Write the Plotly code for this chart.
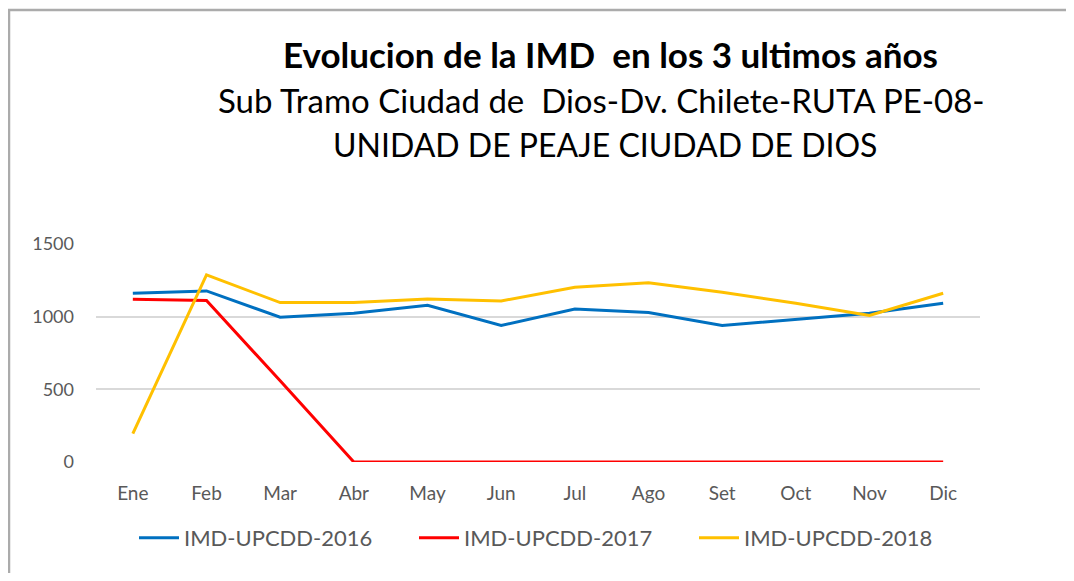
import plotly.graph_objects as go

months = ["Ene", "Feb", "Mar", "Abr", "May", "Jun", "Jul", "Ago", "Set", "Oct", "Nov", "Dic"]
imd_2016 = [1161, 1177, 996, 1024, 1079, 939, 1053, 1028, 939, 983, 1024, 1092]
imd_2017 = [1120, 1111, 559, 0, 0, 0, 0, 0, 0, 0, 0, 0]
imd_2018 = [195, 1287, 1097, 1097, 1122, 1108, 1202, 1234, 1168, 1092, 1008, 1161]
series_names = ["IMD-UPCDD-2016", "IMD-UPCDD-2017", "IMD-UPCDD-2018"]
y_ticks = [0, 500, 1000, 1500]

# page body has an 8px margin; work in screen pixels and convert
OFF = 8
W, H = 1074 - 2 * OFF, 581 - 2 * OFF
L, R, T, B = 96 - OFF, 980 - OFF, 244 - OFF, 462 - OFF

fig = go.Figure()
colors = ["#0070C0", "#FF0000", "#FFC000"]
for name, vals, col in zip(series_names, [imd_2016, imd_2017, imd_2018], colors):
    fig.add_trace(go.Scatter(x=months, y=vals, mode="lines", name=name,
                             line=dict(color=col, width=3)))

font_fam = "Lato, 'Open Sans', sans-serif"

def px_x(px):  # screen px -> paper
    return (px - OFF - L) / (R - L)

def px_y(py):
    return (B - (py - OFF)) / (B - T)

border = dict(color="#ababab", width=2.5)

fig.update_layout(
    width=W, height=H,
    margin=dict(l=L, r=W - R, t=T, b=H - B),
    paper_bgcolor="white", plot_bgcolor="white",
    showlegend=True,
    legend=dict(orientation="h", x=px_x(134), y=px_y(538), xanchor="left", yanchor="middle",
                font=dict(family=font_fam, size=22, color="#595959"),
                entrywidth=225, entrywidthmode="pixels", itemwidth=40),
    xaxis=dict(range=[-0.5, 11.5], showgrid=False, zeroline=False, showline=False,
               ticks="", tickfont=dict(family=font_fam, size=19, color="#595959"),
               ticklabelstandoff=18),
    yaxis=dict(range=[0, 1500], tickvals=y_ticks, showgrid=True, gridcolor="#d9d9d9",
               gridwidth=1.5, zeroline=False, showline=False, ticks="",
               tickfont=dict(family=font_fam, size=18, color="#595959"),
               ticklabelstandoff=21),
    annotations=[
        dict(text="<b>Evolucion de la IMD  en los 3 ultimos años</b>", xref="paper", yref="paper",
             x=px_x(610), y=px_y(54), showarrow=False, xanchor="center", yanchor="middle",
             font=dict(family=font_fam, size=35, color="black")),
        dict(text="Sub Tramo Ciudad de  Dios-Dv. Chilete-RUTA PE-08-", xref="paper", yref="paper",
             x=px_x(601), y=px_y(100), showarrow=False, xanchor="center", yanchor="middle",
             font=dict(family=font_fam, size=33, color="black")),
        dict(text="UNIDAD DE PEAJE CIUDAD DE DIOS", xref="paper", yref="paper",
             x=px_x(605), y=px_y(144), showarrow=False, xanchor="center", yanchor="middle",
             font=dict(family=font_fam, size=32, color="black")),
    ],
    shapes=[
        dict(type="rect", xref="paper", yref="paper",
             x0=px_x(1055), x1=px_x(1120), y0=px_y(640), y1=px_y(13),
             line=dict(width=0), fillcolor="white", layer="above"),
        dict(type="line", xref="paper", yref="paper",
             x0=px_x(9), x1=px_x(9), y0=px_y(620), y1=px_y(10), line=border, layer="above"),
        dict(type="line", xref="paper", yref="paper",
             x0=px_x(8), x1=px_x(1100), y0=px_y(10), y1=px_y(10), line=border, layer="above"),
    ],
)

fig.write_html("out.html")
